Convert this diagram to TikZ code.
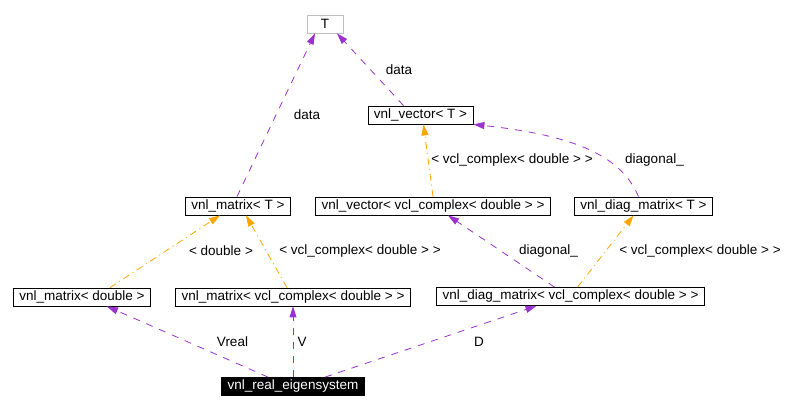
\documentclass[tikz,border=0pt]{standalone}
\usepackage{fontspec}
\setmainfont{Liberation Sans}
\usetikzlibrary{arrows.meta}
\definecolor{collabpurple}{RGB}{154,50,205}
\definecolor{tmplorange}  {RGB}{255,165,0}
\definecolor{extgray}     {RGB}{191,191,191}

\begin{document}
\begin{tikzpicture}[x=1pt,y=-1pt,
		cls/.style={draw=black,line width=0.8pt,fill=white,inner xsep=6pt,inner ysep=0pt,
			minimum height=18pt,font=\fontsize{13.5}{15}\selectfont},
		member/.style={draw=collabpurple,line width=0.8pt,dash pattern=on 7pt off 7pt,
			-{Triangle[length=11pt,width=7pt]}},
		inst/.style={draw=tmplorange,line width=0.8pt,dash pattern=on 7pt off 4pt on 1pt off 4pt,
			-{Triangle[length=11pt,width=7pt]}},
		lbl/.style={inner sep=0pt,font=\fontsize{13.5}{15}\selectfont}]
				\useasboundingbox (0,0) rectangle (800,411);
				% classes
				\node[cls,draw=extgray,minimum width=36pt] (T) at (325,24) {T};
				\node[cls] (vvT) at (420.5,115) {vnl\_vector< T >};
				\node[cls] (vmT) at (238,206) {vnl\_matrix< T >};
				\node[cls] (vvC) at (433,206) {vnl\_vector< vcl\_complex< double > >};
				\node[cls] (vdT) at (643.5,206) {vnl\_diag\_matrix< T >};
				\node[cls] (vmD) at (82,297) {vnl\_matrix< double >};
				\node[cls] (vmC) at (293,297) {vnl\_matrix< vcl\_complex< double > >};
				\node[cls] (vdC) at (570.5,296.5) {vnl\_diag\_matrix< vcl\_complex< double > >};
				\node[cls,fill=black,text=white] (eig) at (293,386.5) {vnl\_real\_eigensystem};
				% members
				\draw[member] ([xshift=-1pt]vmT.north) -- ([xshift=-10pt]T.south);
				\draw[member] ([xshift=-17pt]vvT.north) -- ([xshift=12pt]T.south);
				\draw[member] ([xshift=-5pt]vdT.north) .. controls (622,158) and (580,136) .. (vvT.south east);
				\draw[member] ([xshift=-16pt]vdC.north) -- ([xshift=15pt]vvC.south);
				\draw[member] ([xshift=-25pt]eig.north) -- ([xshift=25pt]vmD.south);
				\draw[member] (eig.north) -- (vmC.south);
				\draw[member] ([xshift=32pt]eig.north) -- ([xshift=-34pt]vdC.south);
				% template instances
				\draw[inst] (vvC.north) -- ([xshift=3pt]vvT.south);
				\draw[inst] ([xshift=28pt]vmD.north) -- ([xshift=-18pt]vmT.south);
				\draw[inst] ([xshift=-6pt]vmC.north) -- ([xshift=8pt]vmT.south);
				\draw[inst] ([xshift=7pt]vdC.north) -- ([xshift=-10pt]vdT.south);
				% labels
				\node[lbl] (lData1) at (307,115) {data};
				\node[lbl] (lData2) at (399,70) {data};
				\node[lbl] (lDiag1) at (654.5,160) {diagonal\_};
				\node[lbl] (lCpx1) at (512,160) {< vcl\_complex< double > >};
				\node[lbl] (lDbl) at (221,251) {< double >};
				\node[lbl] (lCpx2) at (360,251) {< vcl\_complex< double > >};
				\node[lbl] (lDiag2) at (548.5,251) {diagonal\_};
				\node[lbl] (lCpx3) at (700,251) {< vcl\_complex< double > >};
				\node[lbl] (lVreal) at (232.5,342) {Vreal};
				\node[lbl] (lV) at (302,342) {V};
				\node[lbl] (lD) at (479,342) {D};
			\end{tikzpicture}
\end{document}
